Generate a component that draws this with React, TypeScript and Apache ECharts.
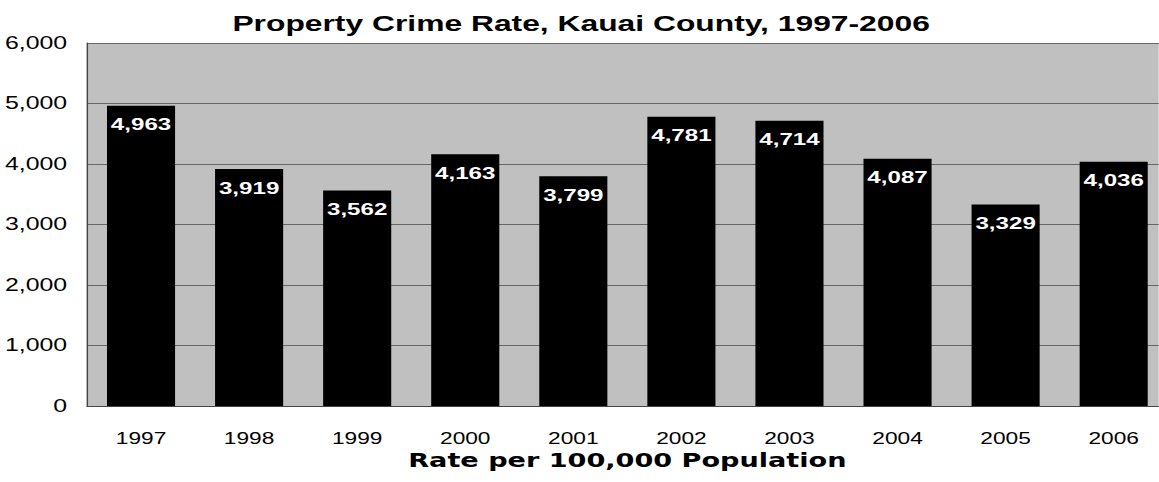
import React, { useEffect, useRef } from "react";
import * as echarts from "echarts";

const years = ["1997", "1998", "1999", "2000", "2001", "2002", "2003", "2004", "2005", "2006"];
const rates = [4963, 3919, 3562, 4163, 3799, 4781, 4714, 4087, 3329, 4036];
const titleText = "Property Crime Rate, Kauai County, 1997-2006";
const axisTitle = "Rate per 100,000 Population";

const K = 1.42; // horizontal stretch of the reference picture
const W = 1159 / K;

export default function App() {
  const ref = useRef<HTMLDivElement>(null);
  useEffect(() => {
    if (!ref.current) return;
    const chart = echarts.init(ref.current, null, { renderer: "svg" });
    const font = "Liberation Sans, Arial, sans-serif";
    chart.setOption({
      animation: false,
      title: {
        text: titleText,
        left: 574 / K,
        textAlign: "center",
        top: 7,
        textStyle: { fontFamily: font, fontWeight: "bold", fontSize: 22.4, color: "#000" },
      },
      grid: {
        left: 87 / K,
        right: W - 1168 / K,
        top: 43,
        bottom: 76,
        show: true,
        backgroundColor: "#c0c0c0",
        borderWidth: 0,
        outerBoundsMode: "none",
      },
      xAxis: {
        type: "category",
        data: years,
        name: axisTitle,
        nameLocation: "middle",
        nameGap: 41,
        nameTextStyle: { fontFamily: "DejaVu Sans, sans-serif", fontWeight: "bold", fontSize: 19.1, color: "#000" },
        axisLine: { lineStyle: { color: "#444", width: 1 } },
        axisTick: { show: false },
        axisLabel: { fontFamily: font, fontSize: 16, color: "#000", margin: 24 },
      },
      yAxis: {
        type: "value",
        min: 0,
        max: 6000,
        interval: 1000,
        axisLine: { show: true, lineStyle: { color: "#444", width: 1 } },
        axisTick: { show: false },
        splitLine: { lineStyle: { color: "#666", width: 1.2 } },
        axisLabel: {
          fontFamily: font,
          fontSize: 17.5,
          color: "#000",
          margin: 14,
          formatter: (v: number) => v.toLocaleString("en-US"),
        },
      },
      series: [
        {
          type: "bar",
          data: rates,
          barWidth: "63%",
          itemStyle: { color: "#000" },
          label: {
            show: true,
            position: "insideTop",
            distance: 10,
            fontFamily: font,
            fontWeight: "bold",
            fontSize: 17,
            color: "#fff",
            formatter: (p: any) => Number(p.value).toLocaleString("en-US"),
          },
        },
      ],
    });
    return () => chart.dispose();
  }, []);
  return (
    <div style={{ position: "absolute", left: 0, top: 0, width: 1159, height: 482, overflow: "hidden" }}>
      <div
        ref={ref}
        style={{ width: W, height: 482, transform: `scaleX(${K})`, transformOrigin: "0 0" }}
      />
    </div>
  );
}
